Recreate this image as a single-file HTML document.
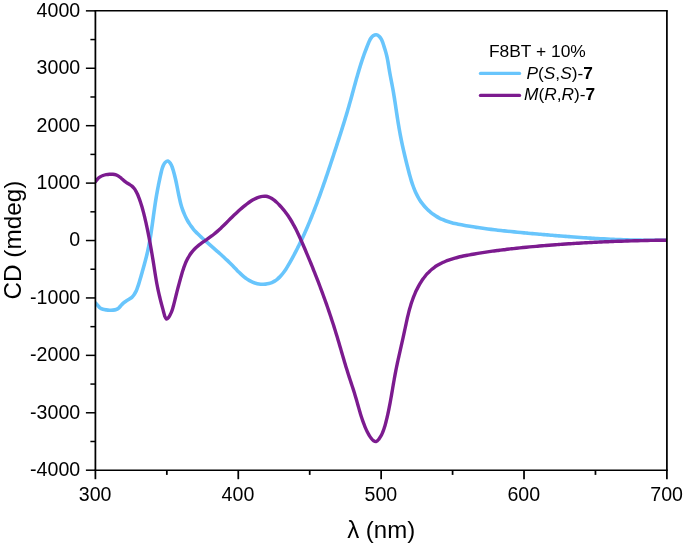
<!DOCTYPE html>
<html><head><meta charset="utf-8"><title>CD spectra</title>
<style>
html,body{margin:0;padding:0;background:#fff;}
svg{display:block;}
text{font-family:"Liberation Sans",Arial,sans-serif;fill:#000;}
.tk text{font-size:19.6px;}
.ax line{stroke:#000;fill:none;}
.ax .h{stroke-width:1.5;}
.ax .v{stroke-width:1.75;}
.lg text{font-size:17.3px;}
.ttl{font-size:24px;}
</style></head><body>
<svg width="685" height="545" viewBox="0 0 685 545">
<rect width="685" height="545" fill="#fff"/>
<defs><clipPath id="pc"><rect x="95.4" y="10.85" width="571.5" height="459.34999999999997"/></clipPath></defs>
<g fill="none" stroke-width="3.5" stroke-linecap="round" stroke-linejoin="round" clip-path="url(#pc)">
<path stroke="#68c5fc" stroke-width="3.6" d="M95.50 302.90C95.87 303.32 96.97 304.60 97.70 305.43C98.44 306.26 99.07 307.23 99.93 307.87C100.80 308.51 101.85 308.93 102.90 309.27C103.95 309.60 105.15 309.74 106.26 309.89C107.37 310.05 108.45 310.16 109.56 310.20C110.67 310.24 111.80 310.26 112.91 310.14C114.02 310.03 115.21 309.88 116.22 309.49C117.23 309.10 118.14 308.48 118.97 307.78C119.81 307.07 120.46 306.09 121.23 305.28C122.00 304.46 122.75 303.61 123.58 302.87C124.42 302.14 125.32 301.50 126.25 300.89C127.17 300.27 128.20 299.77 129.13 299.17C130.07 298.57 131.05 298.02 131.87 297.29C132.69 296.57 133.41 295.72 134.05 294.82C134.69 293.92 135.21 292.89 135.71 291.89C136.22 290.89 136.64 289.84 137.05 288.81C137.46 287.77 137.82 286.73 138.18 285.68C138.53 284.63 138.85 283.57 139.17 282.51C139.49 281.45 139.80 280.39 140.11 279.33C140.42 278.27 140.73 277.20 141.04 276.14C141.34 275.07 141.65 274.00 141.95 272.94C142.25 271.87 142.56 270.80 142.86 269.73C143.16 268.66 143.46 267.59 143.75 266.52C144.05 265.45 144.34 264.38 144.64 263.31C144.93 262.24 145.22 261.17 145.50 260.09C145.78 259.02 146.06 257.95 146.33 256.87C146.60 255.80 146.86 254.72 147.12 253.64C147.37 252.57 147.62 251.49 147.86 250.41C148.09 249.32 148.32 248.24 148.54 247.16C148.76 246.07 148.98 244.99 149.18 243.90C149.39 242.81 149.59 241.73 149.78 240.64C149.97 239.55 150.16 238.46 150.34 237.36C150.52 236.27 150.70 235.18 150.87 234.09C151.04 232.99 151.21 231.90 151.37 230.80C151.53 229.71 151.69 228.61 151.85 227.51C152.01 226.42 152.16 225.32 152.32 224.22C152.47 223.13 152.62 222.03 152.77 220.93C152.93 219.83 153.07 218.73 153.23 217.63C153.38 216.53 153.52 215.43 153.68 214.33C153.83 213.23 153.98 212.13 154.13 211.03C154.29 209.93 154.44 208.83 154.60 207.73C154.76 206.64 154.92 205.54 155.08 204.44C155.25 203.34 155.42 202.24 155.59 201.14C155.76 200.04 155.94 198.95 156.12 197.85C156.30 196.75 156.49 195.65 156.68 194.56C156.87 193.46 157.07 192.37 157.27 191.27C157.47 190.18 157.68 189.09 157.89 188.00C158.10 186.90 158.31 185.81 158.53 184.72C158.75 183.63 158.97 182.55 159.20 181.46C159.42 180.37 159.66 179.29 159.89 178.20C160.13 177.12 160.37 176.04 160.61 174.96C160.85 173.88 161.09 172.80 161.35 171.73C161.61 170.65 161.85 169.57 162.18 168.52C162.51 167.46 162.85 166.39 163.35 165.38C163.84 164.38 164.39 163.21 165.16 162.49C165.93 161.78 167.06 160.93 167.95 161.10C168.83 161.26 169.79 162.56 170.46 163.46C171.13 164.36 171.54 165.45 171.96 166.47C172.38 167.49 172.65 168.51 172.97 169.56C173.29 170.60 173.60 171.66 173.90 172.73C174.19 173.80 174.48 174.88 174.75 175.96C175.03 177.04 175.29 178.14 175.54 179.22C175.79 180.31 176.03 181.40 176.26 182.49C176.49 183.58 176.70 184.67 176.92 185.75C177.14 186.84 177.35 187.93 177.56 189.01C177.77 190.10 177.97 191.18 178.19 192.27C178.40 193.35 178.62 194.43 178.84 195.51C179.07 196.59 179.30 197.67 179.54 198.74C179.78 199.81 180.04 200.89 180.31 201.96C180.58 203.03 180.86 204.09 181.17 205.16C181.48 206.22 181.80 207.28 182.15 208.34C182.50 209.40 182.87 210.45 183.28 211.50C183.68 212.55 184.11 213.60 184.57 214.64C185.02 215.68 185.51 216.71 186.02 217.73C186.53 218.74 187.06 219.75 187.62 220.74C188.19 221.72 188.77 222.70 189.38 223.65C189.99 224.59 190.62 225.52 191.28 226.42C191.93 227.32 192.61 228.20 193.30 229.04C194.00 229.88 194.72 230.69 195.45 231.48C196.19 232.27 196.94 233.03 197.71 233.79C198.48 234.55 199.26 235.29 200.05 236.03C200.85 236.78 201.65 237.52 202.46 238.26C203.28 239.00 204.10 239.74 204.93 240.49C205.75 241.23 206.59 241.97 207.43 242.71C208.27 243.45 209.11 244.19 209.96 244.93C210.80 245.67 211.65 246.40 212.50 247.14C213.34 247.88 214.19 248.62 215.03 249.35C215.88 250.09 216.72 250.83 217.55 251.56C218.39 252.30 219.22 253.03 220.04 253.77C220.87 254.50 221.68 255.23 222.49 255.97C223.30 256.71 224.11 257.44 224.91 258.19C225.71 258.93 226.50 259.68 227.29 260.43C228.09 261.19 228.87 261.95 229.66 262.72C230.44 263.49 231.22 264.27 232.00 265.06C232.79 265.85 233.56 266.65 234.34 267.46C235.12 268.27 235.90 269.09 236.69 269.90C237.48 270.71 238.27 271.52 239.07 272.32C239.88 273.11 240.69 273.90 241.52 274.66C242.35 275.41 243.20 276.16 244.06 276.86C244.93 277.56 245.81 278.25 246.72 278.88C247.63 279.51 248.57 280.10 249.53 280.64C250.50 281.18 251.49 281.68 252.51 282.10C253.54 282.53 254.60 282.91 255.68 283.21C256.76 283.52 257.87 283.76 258.97 283.93C260.08 284.11 261.21 284.22 262.32 284.25C263.42 284.29 264.54 284.26 265.62 284.15C266.71 284.04 267.79 283.87 268.82 283.61C269.85 283.35 270.86 283.01 271.83 282.60C272.79 282.19 273.72 281.70 274.61 281.15C275.51 280.60 276.37 279.98 277.20 279.31C278.03 278.64 278.83 277.90 279.60 277.13C280.37 276.36 281.11 275.53 281.84 274.67C282.56 273.82 283.25 272.91 283.93 271.99C284.60 271.07 285.25 270.11 285.89 269.14C286.53 268.17 287.14 267.18 287.75 266.18C288.35 265.18 288.94 264.17 289.52 263.16C290.09 262.15 290.66 261.14 291.21 260.14C291.77 259.13 292.32 258.13 292.86 257.14C293.40 256.14 293.92 255.15 294.45 254.16C294.97 253.17 295.48 252.18 295.99 251.20C296.50 250.21 297.00 249.23 297.49 248.25C297.99 247.27 298.47 246.28 298.96 245.30C299.44 244.32 299.91 243.34 300.38 242.35C300.86 241.37 301.32 240.38 301.79 239.40C302.25 238.41 302.71 237.42 303.16 236.43C303.62 235.43 304.07 234.44 304.52 233.44C304.97 232.44 305.41 231.44 305.85 230.44C306.29 229.43 306.73 228.43 307.17 227.42C307.60 226.41 308.03 225.40 308.46 224.38C308.89 223.37 309.31 222.35 309.74 221.34C310.16 220.32 310.58 219.30 310.99 218.28C311.41 217.25 311.82 216.23 312.23 215.20C312.64 214.18 313.05 213.15 313.46 212.12C313.86 211.09 314.27 210.06 314.67 209.02C315.07 207.99 315.46 206.95 315.86 205.92C316.25 204.88 316.65 203.84 317.04 202.80C317.43 201.76 317.81 200.72 318.20 199.68C318.59 198.64 318.97 197.59 319.35 196.55C319.73 195.50 320.11 194.45 320.49 193.41C320.87 192.36 321.24 191.31 321.61 190.26C321.99 189.21 322.36 188.16 322.73 187.11C323.10 186.06 323.47 185.01 323.83 183.95C324.20 182.90 324.57 181.85 324.93 180.79C325.29 179.74 325.65 178.69 326.01 177.63C326.38 176.58 326.73 175.52 327.09 174.46C327.45 173.41 327.81 172.35 328.16 171.30C328.52 170.24 328.87 169.18 329.22 168.13C329.58 167.07 329.93 166.01 330.28 164.96C330.63 163.90 330.98 162.84 331.33 161.79C331.68 160.73 332.03 159.67 332.37 158.62C332.72 157.56 333.07 156.50 333.41 155.45C333.76 154.39 334.11 153.34 334.45 152.28C334.80 151.23 335.14 150.18 335.49 149.12C335.83 148.07 336.17 147.02 336.52 145.96C336.86 144.91 337.20 143.86 337.54 142.81C337.89 141.76 338.23 140.71 338.57 139.66C338.91 138.61 339.25 137.55 339.59 136.50C339.92 135.45 340.26 134.40 340.60 133.35C340.93 132.30 341.27 131.25 341.60 130.20C341.94 129.15 342.27 128.09 342.60 127.04C342.93 125.99 343.26 124.94 343.59 123.88C343.92 122.83 344.24 121.78 344.57 120.72C344.89 119.67 345.21 118.61 345.53 117.56C345.86 116.50 346.17 115.44 346.49 114.38C346.81 113.33 347.12 112.27 347.44 111.21C347.75 110.15 348.06 109.08 348.37 108.02C348.67 106.96 348.98 105.89 349.28 104.83C349.59 103.76 349.89 102.69 350.19 101.62C350.48 100.56 350.78 99.49 351.08 98.42C351.37 97.34 351.67 96.27 351.96 95.20C352.25 94.13 352.55 93.05 352.84 91.98C353.13 90.91 353.43 89.83 353.72 88.76C354.01 87.69 354.31 86.61 354.60 85.54C354.90 84.47 355.19 83.39 355.49 82.32C355.79 81.25 356.09 80.17 356.39 79.10C356.69 78.03 356.99 76.96 357.30 75.89C357.61 74.82 357.92 73.76 358.23 72.69C358.54 71.62 358.86 70.56 359.18 69.49C359.50 68.43 359.83 67.37 360.16 66.31C360.49 65.25 360.82 64.19 361.16 63.14C361.50 62.08 361.84 61.03 362.19 59.98C362.55 58.93 362.90 57.88 363.26 56.83C363.63 55.79 364.00 54.74 364.37 53.70C364.75 52.66 365.13 51.62 365.52 50.58C365.91 49.54 366.31 48.51 366.72 47.47C367.13 46.44 367.54 45.41 367.96 44.38C368.39 43.35 368.79 42.31 369.26 41.30C369.73 40.30 370.15 39.25 370.80 38.35C371.44 37.44 372.21 36.45 373.12 35.86C374.02 35.27 375.21 34.72 376.22 34.80C377.23 34.88 378.33 35.62 379.18 36.34C380.02 37.05 380.72 38.11 381.29 39.07C381.87 40.04 382.23 41.08 382.62 42.12C383.01 43.15 383.30 44.22 383.64 45.28C383.98 46.33 384.32 47.39 384.65 48.45C384.98 49.51 385.32 50.57 385.62 51.63C385.93 52.70 386.23 53.77 386.50 54.84C386.77 55.91 387.02 57.00 387.25 58.08C387.48 59.17 387.68 60.26 387.88 61.35C388.07 62.44 388.25 63.53 388.43 64.63C388.61 65.73 388.78 66.82 388.96 67.92C389.14 69.01 389.32 70.11 389.50 71.20C389.69 72.30 389.89 73.39 390.09 74.48C390.28 75.56 390.49 76.65 390.70 77.74C390.91 78.83 391.12 79.91 391.33 81.00C391.54 82.09 391.75 83.17 391.96 84.26C392.17 85.35 392.38 86.44 392.58 87.53C392.78 88.62 392.98 89.71 393.17 90.80C393.36 91.89 393.55 92.99 393.73 94.08C393.91 95.18 394.09 96.27 394.27 97.37C394.45 98.47 394.62 99.56 394.79 100.66C394.96 101.76 395.13 102.86 395.30 103.96C395.46 105.06 395.63 106.16 395.79 107.26C395.96 108.36 396.12 109.46 396.29 110.56C396.45 111.66 396.62 112.76 396.78 113.86C396.95 114.96 397.12 116.06 397.29 117.15C397.46 118.25 397.63 119.35 397.80 120.45C397.97 121.54 398.15 122.64 398.33 123.73C398.51 124.83 398.69 125.92 398.88 127.01C399.06 128.11 399.26 129.20 399.45 130.29C399.65 131.37 399.85 132.46 400.05 133.55C400.26 134.64 400.46 135.72 400.68 136.81C400.89 137.89 401.11 138.97 401.33 140.06C401.55 141.14 401.77 142.22 402.00 143.30C402.23 144.38 402.46 145.46 402.70 146.54C402.93 147.62 403.17 148.70 403.42 149.78C403.66 150.86 403.91 151.94 404.16 153.01C404.41 154.09 404.66 155.17 404.92 156.25C405.17 157.33 405.43 158.40 405.70 159.48C405.96 160.56 406.22 161.64 406.49 162.71C406.76 163.79 407.04 164.87 407.31 165.95C407.59 167.03 407.86 168.11 408.15 169.19C408.43 170.27 408.71 171.35 409.00 172.43C409.28 173.51 409.57 174.59 409.87 175.66C410.17 176.74 410.48 177.82 410.79 178.89C411.11 179.96 411.43 181.03 411.77 182.09C412.11 183.15 412.46 184.21 412.83 185.26C413.20 186.30 413.58 187.35 413.98 188.38C414.39 189.41 414.80 190.43 415.25 191.44C415.69 192.45 416.15 193.45 416.64 194.43C417.13 195.42 417.64 196.39 418.18 197.35C418.72 198.31 419.28 199.25 419.88 200.18C420.48 201.10 421.11 202.01 421.76 202.90C422.42 203.79 423.11 204.66 423.83 205.51C424.54 206.36 425.29 207.19 426.06 208.00C426.83 208.80 427.63 209.59 428.45 210.34C429.27 211.10 430.12 211.83 430.98 212.53C431.85 213.24 432.74 213.91 433.65 214.56C434.56 215.20 435.49 215.82 436.43 216.40C437.38 216.98 438.35 217.53 439.33 218.04C440.31 218.56 441.31 219.03 442.32 219.48C443.33 219.92 444.35 220.33 445.39 220.71C446.42 221.09 447.47 221.44 448.53 221.76C449.58 222.09 450.65 222.39 451.72 222.67C452.79 222.95 453.87 223.21 454.96 223.46C456.04 223.71 457.13 223.94 458.22 224.16C459.31 224.38 460.40 224.60 461.50 224.81C462.59 225.01 463.68 225.22 464.78 225.42C465.87 225.62 466.97 225.81 468.06 226.00C469.16 226.19 470.25 226.37 471.35 226.55C472.45 226.73 473.54 226.91 474.64 227.08C475.74 227.26 476.83 227.42 477.93 227.59C479.03 227.75 480.13 227.91 481.22 228.07C482.32 228.22 483.42 228.38 484.52 228.53C485.62 228.68 486.72 228.82 487.82 228.96C488.92 229.11 490.02 229.25 491.12 229.38C492.22 229.52 493.32 229.65 494.42 229.78C495.52 229.92 496.62 230.04 497.72 230.17C498.82 230.30 499.92 230.42 501.02 230.54C502.12 230.66 503.23 230.78 504.33 230.90C505.43 231.01 506.53 231.13 507.64 231.24C508.74 231.36 509.84 231.47 510.94 231.58C512.05 231.69 513.15 231.80 514.25 231.90C515.36 232.01 516.46 232.12 517.56 232.22C518.67 232.33 519.77 232.43 520.87 232.53C521.98 232.64 523.08 232.74 524.18 232.84C525.29 232.94 526.39 233.04 527.50 233.14C528.60 233.25 529.70 233.35 530.81 233.45C531.91 233.55 533.02 233.65 534.12 233.75C535.23 233.84 536.33 233.94 537.43 234.04C538.54 234.14 539.64 234.24 540.75 234.33C541.85 234.43 542.96 234.53 544.06 234.62C545.17 234.72 546.27 234.81 547.38 234.91C548.48 235.00 549.59 235.10 550.69 235.19C551.80 235.28 552.90 235.38 554.01 235.47C555.12 235.56 556.22 235.65 557.33 235.74C558.43 235.83 559.54 235.92 560.64 236.01C561.75 236.09 562.86 236.18 563.96 236.27C565.07 236.35 566.17 236.44 567.28 236.52C568.39 236.61 569.49 236.69 570.60 236.77C571.70 236.86 572.81 236.94 573.92 237.02C575.02 237.10 576.13 237.18 577.24 237.26C578.34 237.33 579.45 237.41 580.56 237.49C581.66 237.56 582.77 237.64 583.88 237.71C584.98 237.78 586.09 237.86 587.20 237.93C588.30 238.00 589.41 238.07 590.52 238.14C591.63 238.20 592.73 238.27 593.84 238.34C594.95 238.40 596.05 238.47 597.16 238.53C598.27 238.59 599.38 238.65 600.48 238.71C601.59 238.77 602.70 238.83 603.81 238.89C604.91 238.95 606.02 239.00 607.13 239.06C608.24 239.11 609.35 239.16 610.45 239.21C611.56 239.26 612.67 239.31 613.78 239.36C614.89 239.41 615.99 239.45 617.10 239.50C618.21 239.54 619.32 239.59 620.43 239.63C621.53 239.67 622.64 239.71 623.75 239.74C624.86 239.78 625.97 239.82 627.08 239.85C628.18 239.88 629.29 239.92 630.40 239.95C631.51 239.98 632.62 240.00 633.73 240.03C634.84 240.06 635.94 240.08 637.05 240.10C638.16 240.12 639.27 240.14 640.38 240.16C641.49 240.18 642.60 240.20 643.71 240.21C644.81 240.23 645.92 240.24 647.03 240.25C648.14 240.26 649.25 240.26 650.36 240.27C651.47 240.28 652.58 240.28 653.69 240.28C654.80 240.28 655.91 240.28 657.02 240.28C658.12 240.27 659.23 240.27 660.34 240.26C661.45 240.25 662.56 240.24 663.67 240.23C664.78 240.22 666.45 240.20 667.00 240.20"/>
<path stroke="#7c1b8f" stroke-width="3.4" d="M95.50 181.60C95.85 181.16 96.81 179.73 97.58 178.95C98.35 178.18 99.22 177.52 100.13 176.94C101.04 176.37 102.03 175.91 103.04 175.52C104.05 175.14 105.12 174.85 106.19 174.63C107.27 174.42 108.38 174.29 109.49 174.23C110.59 174.17 111.72 174.17 112.81 174.27C113.90 174.37 115.01 174.50 116.02 174.84C117.04 175.18 117.99 175.71 118.89 176.31C119.80 176.91 120.61 177.73 121.44 178.45C122.27 179.18 123.05 179.97 123.89 180.66C124.73 181.36 125.58 182.01 126.48 182.62C127.39 183.23 128.39 183.71 129.31 184.30C130.23 184.89 131.18 185.46 132.00 186.16C132.82 186.87 133.56 187.70 134.23 188.56C134.90 189.41 135.49 190.37 136.04 191.31C136.58 192.26 137.06 193.25 137.51 194.25C137.96 195.24 138.36 196.26 138.76 197.28C139.15 198.30 139.51 199.33 139.87 200.37C140.23 201.40 140.57 202.43 140.91 203.47C141.24 204.51 141.56 205.56 141.87 206.60C142.18 207.65 142.48 208.70 142.77 209.75C143.06 210.80 143.34 211.86 143.62 212.91C143.89 213.97 144.16 215.03 144.42 216.09C144.68 217.15 144.93 218.21 145.18 219.28C145.43 220.34 145.67 221.41 145.91 222.48C146.15 223.54 146.38 224.61 146.61 225.68C146.85 226.75 147.08 227.82 147.30 228.89C147.53 229.96 147.75 231.04 147.97 232.11C148.18 233.18 148.40 234.25 148.61 235.33C148.82 236.40 149.03 237.48 149.24 238.55C149.44 239.63 149.65 240.70 149.85 241.78C150.05 242.86 150.24 243.93 150.44 245.01C150.63 246.08 150.82 247.16 151.01 248.24C151.20 249.31 151.39 250.39 151.57 251.46C151.76 252.54 151.94 253.62 152.12 254.69C152.30 255.77 152.48 256.84 152.66 257.91C152.83 258.99 153.01 260.06 153.18 261.13C153.35 262.21 153.52 263.28 153.69 264.35C153.86 265.42 154.03 266.49 154.20 267.56C154.36 268.63 154.53 269.70 154.69 270.76C154.86 271.83 155.03 272.90 155.20 273.97C155.37 275.05 155.54 276.12 155.72 277.19C155.89 278.27 156.08 279.35 156.27 280.43C156.46 281.52 156.65 282.60 156.85 283.70C157.06 284.79 157.27 285.89 157.49 287.00C157.72 288.10 157.95 289.21 158.18 290.30C158.42 291.40 158.66 292.50 158.91 293.58C159.15 294.66 159.40 295.73 159.65 296.77C159.90 297.82 160.15 298.85 160.40 299.85C160.65 300.85 160.90 301.81 161.15 302.77C161.41 303.73 161.65 304.64 161.92 305.62C162.18 306.61 162.45 307.58 162.74 308.68C163.03 309.78 163.33 310.95 163.67 312.22C164.01 313.49 164.35 315.15 164.78 316.28C165.21 317.40 165.67 318.69 166.25 318.96C166.83 319.24 167.59 318.67 168.26 317.93C168.93 317.19 169.70 315.65 170.28 314.55C170.85 313.45 171.31 312.35 171.71 311.32C172.11 310.30 172.40 309.37 172.70 308.39C173.00 307.41 173.25 306.45 173.53 305.44C173.80 304.43 174.07 303.39 174.33 302.34C174.60 301.29 174.87 300.21 175.13 299.14C175.40 298.06 175.66 296.97 175.93 295.89C176.20 294.81 176.47 293.72 176.74 292.64C177.01 291.56 177.28 290.49 177.56 289.43C177.84 288.37 178.12 287.31 178.40 286.26C178.68 285.21 178.96 284.16 179.25 283.11C179.53 282.07 179.82 281.02 180.11 279.97C180.40 278.92 180.69 277.87 180.98 276.82C181.28 275.77 181.57 274.71 181.88 273.66C182.19 272.61 182.50 271.56 182.84 270.51C183.17 269.47 183.51 268.42 183.87 267.39C184.23 266.36 184.61 265.33 185.02 264.31C185.42 263.30 185.85 262.29 186.30 261.30C186.76 260.31 187.24 259.33 187.76 258.37C188.28 257.41 188.82 256.47 189.41 255.55C189.99 254.63 190.61 253.72 191.26 252.86C191.92 251.99 192.61 251.15 193.33 250.34C194.05 249.53 194.81 248.77 195.59 248.02C196.37 247.27 197.19 246.56 198.03 245.87C198.86 245.17 199.72 244.50 200.59 243.84C201.46 243.18 202.34 242.54 203.24 241.90C204.13 241.26 205.03 240.64 205.93 240.01C206.83 239.38 207.74 238.76 208.64 238.12C209.54 237.49 210.43 236.85 211.31 236.20C212.19 235.55 213.06 234.89 213.92 234.21C214.77 233.53 215.61 232.84 216.43 232.13C217.26 231.42 218.07 230.70 218.87 229.97C219.68 229.25 220.47 228.50 221.26 227.76C222.05 227.01 222.83 226.25 223.61 225.49C224.38 224.73 225.16 223.96 225.93 223.19C226.70 222.42 227.47 221.65 228.24 220.88C229.01 220.10 229.79 219.33 230.56 218.56C231.34 217.79 232.12 217.01 232.91 216.25C233.70 215.48 234.49 214.72 235.29 213.97C236.09 213.21 236.90 212.46 237.71 211.72C238.52 210.98 239.34 210.24 240.16 209.52C240.98 208.80 241.81 208.08 242.65 207.38C243.48 206.68 244.32 205.99 245.16 205.31C246.00 204.64 246.85 203.97 247.71 203.33C248.57 202.69 249.43 202.05 250.32 201.46C251.21 200.87 252.11 200.30 253.05 199.77C254.00 199.25 254.96 198.75 255.97 198.32C256.99 197.88 258.04 197.47 259.14 197.15C260.23 196.82 261.41 196.51 262.54 196.37C263.67 196.22 264.83 196.17 265.90 196.28C266.98 196.39 268.01 196.68 269.01 197.05C270.00 197.42 270.94 197.93 271.86 198.50C272.77 199.06 273.65 199.74 274.50 200.43C275.36 201.12 276.18 201.88 276.98 202.63C277.79 203.39 278.57 204.16 279.33 204.95C280.09 205.74 280.83 206.54 281.55 207.36C282.27 208.17 282.97 209.00 283.66 209.84C284.34 210.69 285.01 211.54 285.65 212.41C286.30 213.27 286.94 214.15 287.55 215.04C288.17 215.93 288.77 216.83 289.36 217.74C289.95 218.65 290.52 219.57 291.08 220.50C291.64 221.43 292.19 222.36 292.72 223.31C293.26 224.25 293.78 225.21 294.30 226.17C294.81 227.13 295.32 228.09 295.81 229.06C296.31 230.04 296.79 231.02 297.27 232.00C297.75 232.98 298.22 233.97 298.68 234.96C299.15 235.95 299.61 236.95 300.06 237.95C300.51 238.95 300.96 239.95 301.40 240.95C301.85 241.96 302.28 242.96 302.72 243.97C303.16 244.98 303.59 245.99 304.03 246.99C304.46 248.00 304.89 249.01 305.32 250.02C305.75 251.03 306.18 252.04 306.60 253.05C307.03 254.06 307.45 255.06 307.88 256.07C308.30 257.08 308.72 258.10 309.14 259.11C309.56 260.12 309.97 261.13 310.39 262.14C310.81 263.15 311.22 264.16 311.63 265.18C312.04 266.19 312.45 267.20 312.86 268.22C313.27 269.23 313.68 270.24 314.08 271.26C314.49 272.27 314.89 273.29 315.29 274.30C315.69 275.32 316.09 276.33 316.49 277.35C316.88 278.37 317.28 279.38 317.67 280.40C318.06 281.42 318.46 282.44 318.84 283.45C319.23 284.47 319.62 285.49 320.01 286.51C320.39 287.53 320.78 288.55 321.16 289.57C321.54 290.59 321.92 291.62 322.30 292.64C322.67 293.66 323.05 294.68 323.42 295.71C323.79 296.73 324.17 297.76 324.53 298.78C324.90 299.80 325.27 300.83 325.64 301.86C326.00 302.88 326.36 303.91 326.73 304.94C327.09 305.97 327.44 306.99 327.80 308.02C328.16 309.05 328.51 310.08 328.86 311.11C329.22 312.14 329.57 313.17 329.92 314.21C330.26 315.24 330.61 316.27 330.95 317.31C331.30 318.34 331.64 319.37 331.98 320.41C332.32 321.45 332.65 322.48 332.99 323.52C333.32 324.56 333.66 325.59 333.99 326.63C334.32 327.67 334.64 328.71 334.97 329.75C335.30 330.79 335.62 331.83 335.94 332.88C336.26 333.92 336.58 334.96 336.90 336.01C337.21 337.05 337.53 338.10 337.84 339.14C338.15 340.19 338.46 341.24 338.77 342.28C339.08 343.33 339.39 344.38 339.69 345.43C340.00 346.48 340.31 347.52 340.61 348.57C340.92 349.62 341.22 350.67 341.53 351.72C341.83 352.77 342.14 353.82 342.45 354.87C342.75 355.92 343.06 356.97 343.37 358.03C343.67 359.08 343.98 360.13 344.29 361.18C344.61 362.23 344.92 363.27 345.23 364.32C345.55 365.37 345.86 366.42 346.18 367.47C346.50 368.52 346.83 369.57 347.15 370.61C347.48 371.66 347.81 372.71 348.14 373.75C348.47 374.80 348.81 375.84 349.15 376.89C349.49 377.93 349.83 378.97 350.18 380.01C350.52 381.06 350.87 382.10 351.22 383.14C351.56 384.18 351.91 385.22 352.25 386.26C352.60 387.30 352.94 388.34 353.28 389.38C353.61 390.42 353.94 391.46 354.27 392.51C354.59 393.55 354.91 394.59 355.22 395.63C355.53 396.68 355.84 397.72 356.14 398.76C356.44 399.81 356.73 400.85 357.03 401.90C357.32 402.94 357.61 403.98 357.91 405.03C358.20 406.07 358.50 407.11 358.80 408.16C359.09 409.20 359.39 410.24 359.70 411.28C360.01 412.32 360.32 413.36 360.64 414.40C360.96 415.44 361.28 416.48 361.62 417.52C361.96 418.56 362.31 419.59 362.67 420.62C363.03 421.66 363.40 422.69 363.79 423.72C364.18 424.75 364.59 425.78 365.01 426.80C365.43 427.82 365.87 428.84 366.33 429.84C366.79 430.83 367.26 431.82 367.76 432.77C368.27 433.72 368.77 434.64 369.34 435.55C369.91 436.45 370.47 437.32 371.18 438.20C371.90 439.07 372.75 440.25 373.62 440.80C374.49 441.34 375.53 441.77 376.42 441.48C377.30 441.19 378.18 439.96 378.92 439.08C379.65 438.20 380.27 437.16 380.82 436.21C381.38 435.26 381.82 434.33 382.25 433.36C382.69 432.40 383.07 431.41 383.44 430.41C383.80 429.40 384.14 428.36 384.47 427.32C384.79 426.28 385.09 425.21 385.39 424.15C385.68 423.09 385.95 422.01 386.22 420.94C386.49 419.88 386.75 418.81 387.01 417.74C387.26 416.67 387.50 415.60 387.74 414.53C387.98 413.47 388.21 412.40 388.43 411.33C388.66 410.27 388.88 409.20 389.09 408.13C389.31 407.07 389.51 406.00 389.72 404.93C389.92 403.87 390.12 402.80 390.32 401.74C390.51 400.67 390.70 399.60 390.89 398.54C391.08 397.47 391.27 396.41 391.46 395.34C391.64 394.27 391.83 393.21 392.01 392.14C392.19 391.07 392.37 390.01 392.56 388.94C392.74 387.87 392.92 386.81 393.10 385.74C393.29 384.67 393.47 383.60 393.66 382.53C393.84 381.46 394.03 380.39 394.22 379.32C394.41 378.25 394.60 377.18 394.80 376.11C395.00 375.04 395.20 373.97 395.40 372.90C395.61 371.82 395.82 370.75 396.03 369.68C396.24 368.60 396.46 367.53 396.68 366.45C396.91 365.37 397.13 364.30 397.36 363.22C397.59 362.14 397.83 361.07 398.06 359.99C398.30 358.91 398.54 357.83 398.78 356.76C399.02 355.68 399.26 354.60 399.50 353.52C399.74 352.45 399.99 351.37 400.23 350.29C400.48 349.21 400.72 348.14 400.97 347.06C401.21 345.98 401.46 344.91 401.70 343.83C401.95 342.76 402.19 341.68 402.43 340.61C402.67 339.53 402.92 338.46 403.15 337.39C403.39 336.32 403.63 335.24 403.86 334.17C404.09 333.10 404.32 332.03 404.55 330.97C404.78 329.90 405.00 328.83 405.23 327.77C405.46 326.70 405.68 325.64 405.91 324.58C406.14 323.52 406.37 322.46 406.60 321.40C406.83 320.34 407.07 319.28 407.31 318.23C407.55 317.17 407.80 316.12 408.06 315.07C408.31 314.02 408.57 312.97 408.84 311.92C409.11 310.88 409.39 309.83 409.68 308.79C409.97 307.75 410.27 306.71 410.59 305.67C410.90 304.63 411.22 303.60 411.56 302.57C411.90 301.53 412.26 300.51 412.63 299.48C413.00 298.45 413.38 297.43 413.78 296.41C414.19 295.39 414.61 294.37 415.05 293.35C415.49 292.34 415.95 291.33 416.42 290.32C416.90 289.32 417.40 288.32 417.92 287.34C418.44 286.35 418.98 285.37 419.54 284.41C420.10 283.45 420.68 282.49 421.28 281.56C421.88 280.63 422.50 279.71 423.14 278.82C423.78 277.92 424.45 277.05 425.13 276.20C425.82 275.35 426.52 274.52 427.25 273.72C427.98 272.92 428.73 272.14 429.51 271.40C430.28 270.65 431.08 269.94 431.89 269.26C432.71 268.58 433.56 267.93 434.42 267.32C435.28 266.70 436.16 266.11 437.06 265.56C437.96 265.00 438.88 264.47 439.82 263.96C440.76 263.46 441.71 262.98 442.68 262.53C443.65 262.07 444.63 261.65 445.63 261.24C446.63 260.83 447.64 260.45 448.66 260.08C449.69 259.71 450.72 259.37 451.76 259.04C452.81 258.71 453.86 258.40 454.92 258.10C455.98 257.80 457.05 257.52 458.13 257.26C459.20 256.99 460.29 256.73 461.37 256.49C462.46 256.25 463.55 256.01 464.64 255.79C465.73 255.57 466.83 255.35 467.93 255.14C469.02 254.94 470.12 254.74 471.21 254.54C472.31 254.34 473.40 254.15 474.49 253.96C475.59 253.77 476.68 253.59 477.77 253.41C478.86 253.23 479.94 253.05 481.03 252.87C482.12 252.70 483.20 252.53 484.29 252.36C485.37 252.20 486.46 252.03 487.54 251.87C488.62 251.71 489.70 251.56 490.78 251.40C491.86 251.25 492.94 251.10 494.02 250.95C495.10 250.80 496.18 250.66 497.26 250.52C498.33 250.37 499.41 250.24 500.49 250.10C501.56 249.96 502.64 249.83 503.72 249.70C504.79 249.56 505.87 249.44 506.94 249.31C508.02 249.18 509.10 249.06 510.17 248.93C511.25 248.81 512.32 248.69 513.40 248.57C514.47 248.46 515.55 248.34 516.63 248.22C517.70 248.11 518.78 248.00 519.86 247.89C520.93 247.78 522.01 247.67 523.09 247.56C524.17 247.45 525.25 247.34 526.33 247.24C527.40 247.13 528.48 247.03 529.57 246.93C530.65 246.82 531.73 246.72 532.81 246.62C533.89 246.52 534.97 246.43 536.06 246.33C537.14 246.23 538.23 246.14 539.31 246.04C540.39 245.95 541.48 245.85 542.57 245.76C543.65 245.67 544.74 245.58 545.82 245.49C546.91 245.40 548.00 245.31 549.09 245.22C550.17 245.14 551.26 245.05 552.35 244.97C553.44 244.88 554.53 244.80 555.62 244.72C556.71 244.64 557.80 244.56 558.89 244.48C559.98 244.40 561.07 244.32 562.16 244.24C563.25 244.16 564.34 244.09 565.44 244.01C566.53 243.94 567.62 243.87 568.71 243.79C569.80 243.72 570.90 243.65 571.99 243.58C573.08 243.51 574.18 243.44 575.27 243.37C576.36 243.31 577.46 243.24 578.55 243.18C579.65 243.11 580.74 243.05 581.83 242.98C582.93 242.92 584.02 242.86 585.12 242.80C586.21 242.74 587.31 242.68 588.40 242.62C589.50 242.56 590.59 242.50 591.69 242.45C592.78 242.39 593.88 242.34 594.97 242.28C596.07 242.23 597.16 242.17 598.26 242.12C599.35 242.07 600.45 242.02 601.54 241.97C602.64 241.92 603.73 241.87 604.83 241.82C605.92 241.78 607.02 241.73 608.11 241.68C609.21 241.64 610.30 241.59 611.40 241.55C612.49 241.51 613.59 241.46 614.68 241.42C615.78 241.38 616.87 241.34 617.96 241.30C619.06 241.26 620.15 241.22 621.25 241.19C622.34 241.15 623.43 241.11 624.53 241.08C625.62 241.04 626.71 241.01 627.80 240.97C628.90 240.94 629.99 240.91 631.08 240.87C632.17 240.84 633.26 240.81 634.36 240.78C635.45 240.75 636.54 240.72 637.63 240.70C638.72 240.67 639.81 240.64 640.90 240.61C641.99 240.59 643.08 240.56 644.17 240.54C645.26 240.51 646.34 240.49 647.43 240.47C648.52 240.45 649.61 240.42 650.69 240.40C651.78 240.38 652.87 240.36 653.95 240.34C655.04 240.33 656.12 240.31 657.21 240.29C658.29 240.27 659.38 240.26 660.46 240.24C661.55 240.23 662.62 240.20 663.71 240.20C664.80 240.19 666.45 240.20 667.00 240.20"/>
</g>
<g fill="none" stroke-width="3.4" stroke-linecap="round">
<line x1="480.5" y1="73.4" x2="519.5" y2="73.4" stroke="#68c5fc"/>
<line x1="480.5" y1="95.4" x2="519.5" y2="95.4" stroke="#7c1b8f"/>
</g>
<g class="ax"><line class="h" x1="94.53" y1="10.85" x2="667.77" y2="10.85"/><line class="h" x1="94.53" y1="470.2" x2="667.77" y2="470.2"/><line class="v" x1="95.4" y1="10.85" x2="95.4" y2="470.2"/><line class="v" x1="666.9" y1="10.85" x2="666.9" y2="470.2"/><line class="h" x1="85.90" y1="470.20" x2="95.40" y2="470.20"/><line class="h" x1="90.40" y1="441.49" x2="95.40" y2="441.49"/><line class="h" x1="85.90" y1="412.78" x2="95.40" y2="412.78"/><line class="h" x1="90.40" y1="384.07" x2="95.40" y2="384.07"/><line class="h" x1="85.90" y1="355.36" x2="95.40" y2="355.36"/><line class="h" x1="90.40" y1="326.65" x2="95.40" y2="326.65"/><line class="h" x1="85.90" y1="297.94" x2="95.40" y2="297.94"/><line class="h" x1="90.40" y1="269.23" x2="95.40" y2="269.23"/><line class="h" x1="85.90" y1="240.53" x2="95.40" y2="240.53"/><line class="h" x1="90.40" y1="211.82" x2="95.40" y2="211.82"/><line class="h" x1="85.90" y1="183.11" x2="95.40" y2="183.11"/><line class="h" x1="90.40" y1="154.40" x2="95.40" y2="154.40"/><line class="h" x1="85.90" y1="125.69" x2="95.40" y2="125.69"/><line class="h" x1="90.40" y1="96.98" x2="95.40" y2="96.98"/><line class="h" x1="85.90" y1="68.27" x2="95.40" y2="68.27"/><line class="h" x1="90.40" y1="39.56" x2="95.40" y2="39.56"/><line class="h" x1="85.90" y1="10.85" x2="95.40" y2="10.85"/><line class="v" x1="95.40" y1="470.20" x2="95.40" y2="479.20"/><line class="v" x1="166.84" y1="470.20" x2="166.84" y2="474.90"/><line class="v" x1="238.28" y1="470.20" x2="238.28" y2="479.20"/><line class="v" x1="309.71" y1="470.20" x2="309.71" y2="474.90"/><line class="v" x1="381.15" y1="470.20" x2="381.15" y2="479.20"/><line class="v" x1="452.59" y1="470.20" x2="452.59" y2="474.90"/><line class="v" x1="524.02" y1="470.20" x2="524.02" y2="479.20"/><line class="v" x1="595.46" y1="470.20" x2="595.46" y2="474.90"/><line class="v" x1="666.90" y1="470.20" x2="666.90" y2="479.20"/></g>
<g class="tk"><text x="80.2" y="476.05" text-anchor="end">-4000</text><text x="80.2" y="418.63" text-anchor="end">-3000</text><text x="80.2" y="361.21" text-anchor="end">-2000</text><text x="80.2" y="303.79" text-anchor="end">-1000</text><text x="80.2" y="246.38" text-anchor="end">0</text><text x="80.2" y="188.96" text-anchor="end">1000</text><text x="80.2" y="131.54" text-anchor="end">2000</text><text x="80.2" y="74.12" text-anchor="end">3000</text><text x="80.2" y="16.70" text-anchor="end">4000</text><text x="95.10" y="501" text-anchor="middle">300</text><text x="237.97" y="501" text-anchor="middle">400</text><text x="380.85" y="501" text-anchor="middle">500</text><text x="523.73" y="501" text-anchor="middle">600</text><text x="666.60" y="501" text-anchor="middle">700</text></g>
<g class="lg">
<text x="537.4" y="57.3" style="font-size:17.4px" text-anchor="middle">F8BT + 10%</text>
<text x="526.5" y="79.2"><tspan font-style="italic">P</tspan>(<tspan font-style="italic">S</tspan>,<tspan font-style="italic">S</tspan>)-<tspan font-weight="bold">7</tspan></text>
<text x="524" y="100.3"><tspan font-style="italic">M</tspan>(<tspan font-style="italic">R</tspan>,<tspan font-style="italic">R</tspan>)-<tspan font-weight="bold">7</tspan></text>
</g>
<text class="ttl" x="381.2" y="537.5" text-anchor="middle">λ (nm)</text>
<text class="ttl" style="font-size:24.3px" transform="translate(20.5 240.1) rotate(-90)" text-anchor="middle">CD (mdeg)</text>
</svg>
</body></html>
